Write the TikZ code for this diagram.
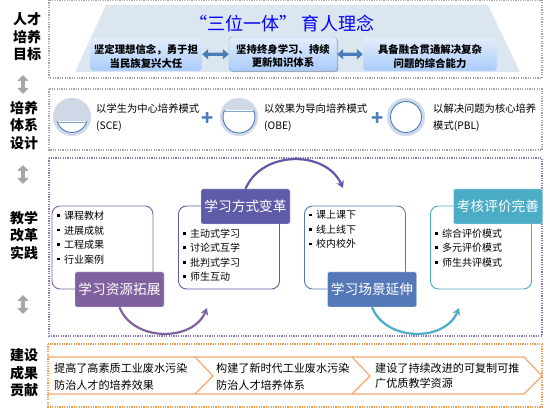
\documentclass[tikz,border=0pt]{standalone}
\usepackage{fontspec}
\setmainfont{Noto Sans CJK SC}
\usetikzlibrary{arrows.meta,shadows,shapes.arrows}
\definecolor{frameg}{HTML}{A6A6A6}
\definecolor{framep}{HTML}{8E78B4}
\definecolor{frameo}{HTML}{F79646}
\definecolor{trap}{HTML}{DCE6F1}
\definecolor{boxtop}{HTML}{E3EDFC}
\definecolor{boxbot}{HTML}{A9CBFB}
\definecolor{arrowb}{HTML}{4A7EBB}
\definecolor{ringc}{HTML}{D0D8E8}
\definecolor{hpur}{HTML}{7F619F}
\definecolor{hind}{HTML}{5F5BA8}
\definecolor{hblu}{HTML}{5579B8}
\definecolor{hteal}{HTML}{4BACC6}
\definecolor{chev}{HTML}{F3A871}
\newcommand{\bul}[1]{\rule[2.6pt]{2.8pt}{2.8pt}\hspace{4pt}#1}
\newcommand{\lowfirst}{\rule{0pt}{13pt}}
\tikzset{
  x=1pt,y=-1pt,
  framebox/.style={line width=1.2pt,dash pattern=on 1.2pt off 1.2pt},
  sidelabel/.style={font=\fontsize{14}{17.5}\selectfont\bfseries,align=center,inner sep=0pt,text=black},
  aimbox/.style={rounded corners=3pt,draw=white!70!boxbot,top color=boxtop,bottom color=boxbot,minimum height=33pt,inner sep=0pt,align=center,font=\fontsize{10.4}{13.5}\selectfont\bfseries},
  bluearrow/.style={arrowb,line width=3.2pt,{Triangle[length=6pt,width=10pt]}-{Triangle[length=6pt,width=10pt]}},
  grayarrow/.style={frameg,line width=4.5pt,{Triangle[length=6pt,width=11pt]}-{Triangle[length=6pt,width=11pt]}},
  modetext/.style={anchor=west,inner sep=0pt,align=left,font=\fontsize{10.3}{17}\selectfont},
  ring/.style={circle,fill=ringc,draw=ringc!70!white,minimum size=38pt,inner sep=0pt},
  plusmark/.style={inner sep=0pt,text=arrowb,font=\fontsize{20}{20}\selectfont\bfseries},
  panel/.style={draw=#1,fill=white,rounded corners=8pt,line width=0.9pt,minimum width=101pt,minimum height=83pt,inner sep=0pt},
  hdr/.style={fill=#1,draw=white!75!#1,rounded corners=2pt,minimum width=89pt,minimum height=35pt,inner sep=0pt,text=white,font=\fontsize{13.7}{14}\selectfont},
  listtext/.style={anchor=north west,inner sep=0pt,align=left,font=\fontsize{10}{14.5}\selectfont},
  arc/.style={draw=#1,line width=2.2pt,-{Stealth[length=7pt,width=8pt]}},
  chevtext/.style={anchor=west,inner sep=0pt,align=left,font=\fontsize{11.1}{17}\selectfont},
  chevline/.style={draw=chev,line width=1.2pt},
}
\begin{document}
\begin{tikzpicture}
\useasboundingbox (0,0) rectangle (550,409);
% frames
\draw[framebox,frameg] (49,0) rectangle (542,78);
\draw[framebox,frameg] (49,89) rectangle (542,150);
\draw[framebox,framep] (49,158) rectangle (542,336);
\draw[framebox,frameo] (48,344) rectangle (542,407);
% side labels
\node[sidelabel] (l1) at (27,37) {人才\\培养\\目标};
\node[sidelabel] (l2) at (24,125.5) {培养\\体系\\设计};
\node[sidelabel] (l3) at (24,235.5) {教学\\改革\\实践};
\node[sidelabel] (l4) at (24,373) {建设\\成果\\贡献};
\coordinate (g1a) at (23,75); \coordinate (g1b) at (23,94);
\coordinate (g2a) at (23,165); \coordinate (g2b) at (23,184);
\coordinate (g3a) at (23,295); \coordinate (g3b) at (23,314);
\draw[grayarrow] (g1a) -- (g1b);
\draw[grayarrow] (g2a) -- (g2b);
\draw[grayarrow] (g3a) -- (g3b);
% top section
\fill[trap] (106,5) -- (488,5) -- (520,72) -- (75,72) -- cycle;
\node[inner sep=0pt,text=blue,font=\fontsize{18}{18}\selectfont] (title) at (282,24) {“三位一体” 育人理念};
\node[aimbox,minimum width=112pt] (b1) at (146,54.5) {\lowfirst 坚定理想信念，勇于担\\当民族复兴大任};
\node[aimbox,minimum width=108pt,minimum height=34pt,draw=arrowb!60!white,drop shadow={shadow xshift=1.2pt,shadow yshift=-1.2pt,fill=black!55}] (b2) at (283,54) {\lowfirst 坚持终身学习、持续\\更新知识体系};
\node[aimbox,minimum width=134pt] (b3) at (430,54.5) {\lowfirst 具备融合贯通解决复杂\\问题的综合能力};
\draw[bluearrow] (b1) -- (b2);
\draw[bluearrow] (b2) -- (b3);
% second section
\node[ring] (c1) at (72,117) {};
\begin{scope}
\clip (50,122) rectangle (95,140);
\draw[fill=white,draw=arrowb,line width=0.9pt] (c1.center) circle[radius=15.5pt];
\end{scope}
\draw[arrowb!70!white,line width=0.9pt] (57.3,122) -- (86.7,122);
\node[ring] (c2) at (239,117) {};
\begin{scope}
\clip (215,111) rectangle (262,140);
\draw[fill=white,draw=arrowb,line width=0.9pt] (c2.center) circle[radius=16pt];
\end{scope}
\draw[arrowb!70!white,line width=0.9pt] (223.9,111) -- (254.1,111);
\node[ring] (c3) at (406,117) {};
\draw[fill=white,draw=arrowb,line width=0.9pt] (c3.center) circle[radius=15.5pt];
\node[modetext] (m1) at (96,117.5) {以学生为中心培养模式\\(SCE)};
\node[modetext] (m2) at (264,117.5) {以效果为导向培养模式\\(OBE)};
\node[modetext] (m3) at (433,117.5) {以解决问题为核心培养\\模式(PBL)};
\node[plusmark] (p1) at (208,119) {+};
\node[plusmark] (p2) at (378,119) {+};
% third section
\node[panel=hpur] (pa) at (102.5,247.5) {};
\node[panel=hind] (pb) at (229,247.5) {};
\node[panel=hblu] (pc) at (355,247.5) {};
\node[panel=hteal] (pd) at (481,247.5) {};
\node[listtext] (ta) at (57,211) {\bul{课程教材}\\\bul{进展成就}\\\bul{工程成果}\\\bul{行业案例}};
\node[listtext] (tb) at (183,228.5) {\bul{主动式学习}\\\bul{讨论式互学}\\\bul{批判式学习}\\\bul{师生互动}};
\node[listtext] (tc) at (309,210.5) {\bul{课上课下}\\\bul{线上线下}\\\bul{校内校外}};
\node[listtext] (td) at (435,228.5) {\bul{综合评价模式}\\\bul{多元评价模式}\\\bul{师生共评模式}};
\node[hdr=hpur] (ha) at (119.5,289.5) {学习资源拓展};
\node[hdr=hind] (hb) at (245.5,206.5) {学习方式变革};
\node[hdr=hblu] (hc) at (372,289.5) {学习场景延伸};
\node[hdr=hteal] (hd) at (498,206.5) {考核评价完善};
\coordinate (ea) at (207,308);
\coordinate (eb) at (343,188);
\coordinate (ec) at (459,308);
\draw[arc=hpur] (ha.south) .. controls (133,342) and (193,342) .. (ea);
\draw[arc=hind] (hb.north) .. controls (262,150) and (326,150) .. (eb);
\draw[arc=hteal] (hc.south) .. controls (386,342) and (445,342) .. (ec);
% bottom section
\draw[chevline] (48,357) -- (195,357) -- (213,376) -- (195,394) -- (48,394);
\draw[chevline] (195,357) -- (352,357) -- (370,376) -- (352,394) -- (195,394);
\draw[chevline] (352,357) -- (524,357) -- (542,376) -- (524,394) -- (352,394);
\node[chevtext] (r1) at (54,376.5) {提高了高素质工业废水污染\\防治人才的培养效果};
\node[chevtext] (r2) at (216,376.5) {构建了新时代工业废水污染\\防治人才培养体系};
\node[chevtext,font=\fontsize{11.1}{15.5}\selectfont] (r3) at (375,376) {建设了持续改进的可复制可推\\广优质教学资源};
\end{tikzpicture}
\end{document}
